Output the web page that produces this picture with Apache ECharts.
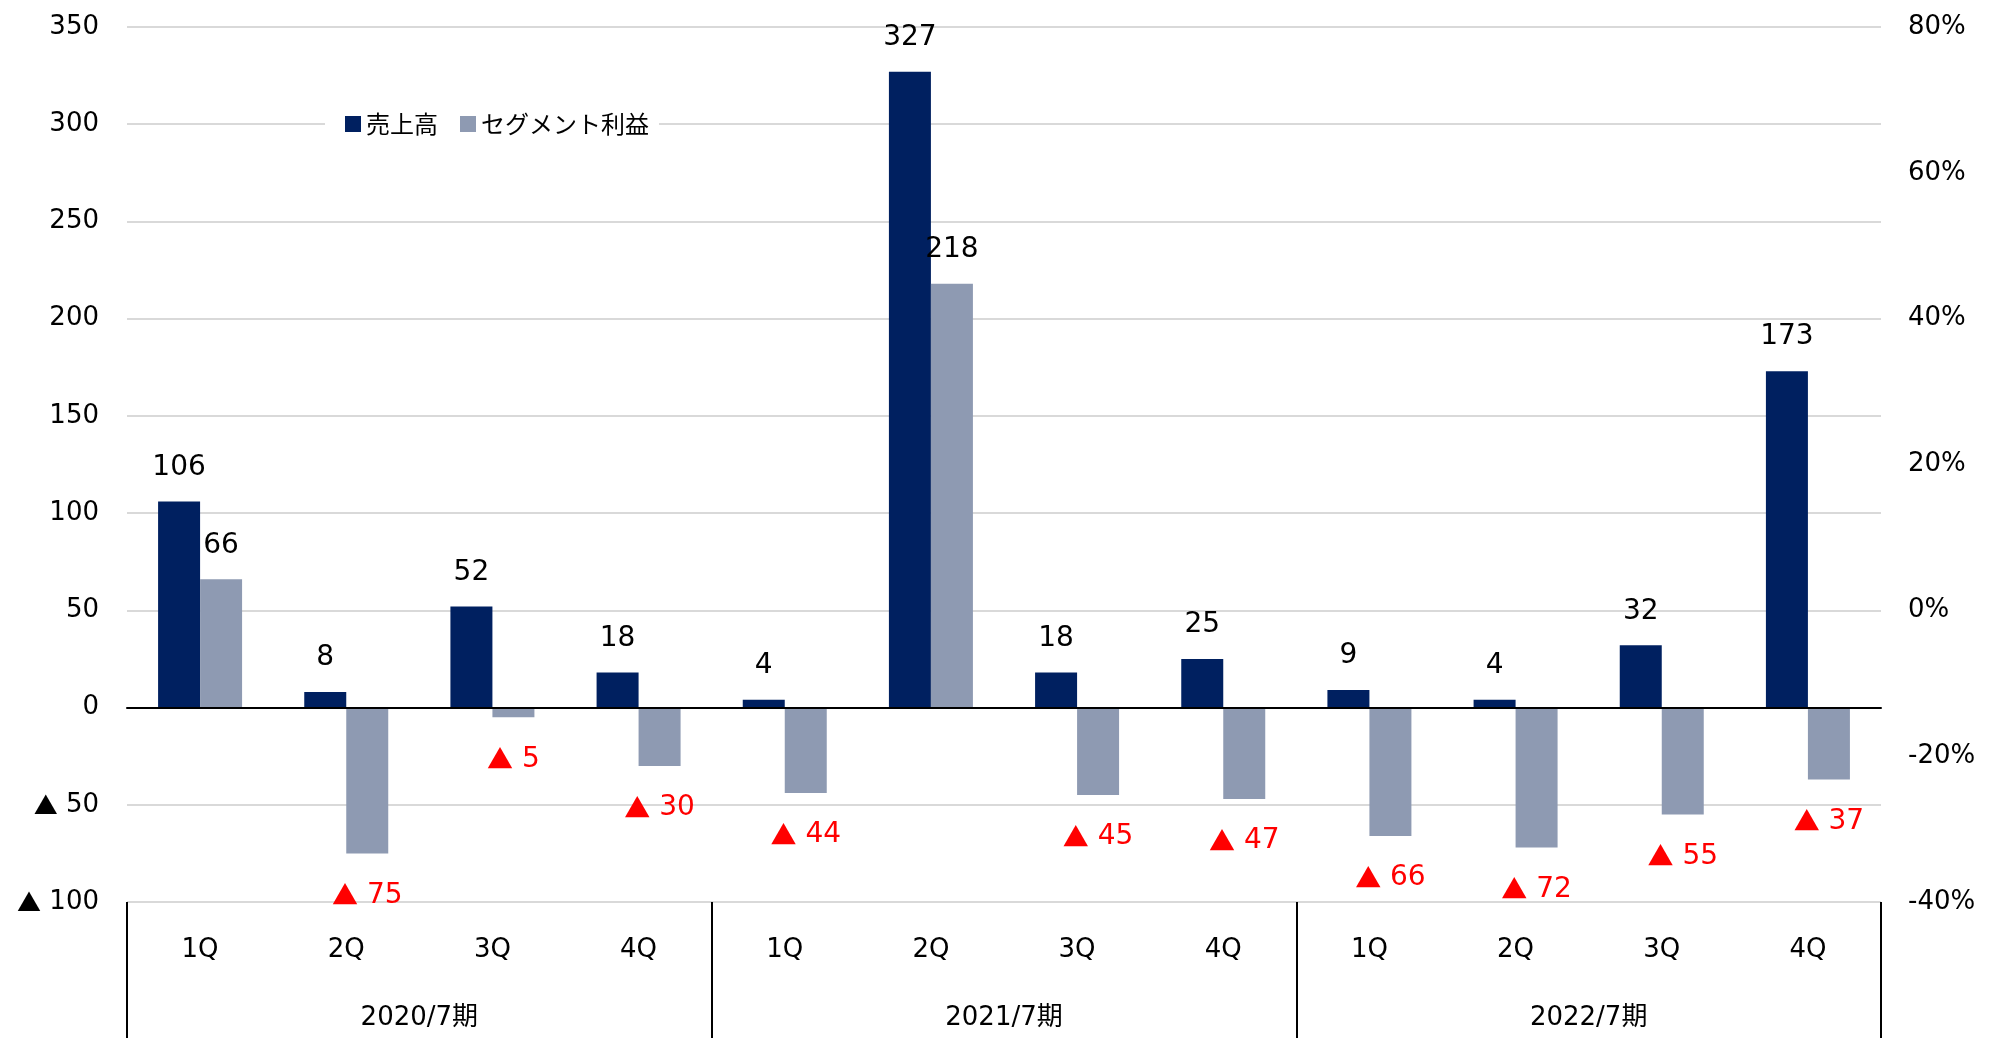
<!DOCTYPE html>
<html>
<head>
<meta charset="utf-8">
<script src="https://cdn.jsdelivr.net/npm/echarts@6/dist/echarts.min.js"></script>
<style>
html,body{margin:0;padding:0;background:#fff;}
#chart{width:1997px;height:1038px;}
</style>
</head>
<body>
<div id="chart"></div>
<script>
const quarters = ['1Q','2Q','3Q','4Q','1Q','2Q','3Q','4Q','1Q','2Q','3Q','4Q'];
const years = ['2020/7期','2021/7期','2022/7期'];
const sales = [106, 8, 52, 18, 4, 327, 18, 25, 9, 4, 32, 173];
const profit = [66, -75, -5, -30, -44, 218, -45, -47, -66, -72, -55, -37];
const seriesNames = ['売上高', 'セグメント利益'];

const FONT = '"DejaVu Sans", "Noto Sans CJK JP", sans-serif';
const CJK = '"Noto Sans CJK JP", sans-serif';
const fmtTri = v => v < 0 ? '{t|▲} ' + Math.abs(v) : String(v);

const profitData = profit.map(v => ({
  value: v,
  label: v < 0
    ? { position: 'bottom', color: '#FF0000', distance: 28 }
    : { position: 'top', color: '#000', distance: 20 }
}));

const chart = echarts.init(document.getElementById('chart'), null, {renderer: 'canvas'});
chart.setOption({
  animation: false,
  backgroundColor: '#fff',
  textStyle: { fontFamily: FONT },
  grid: { left: 127, right: 116, top: 27, bottom: 136, containLabel: false },
  legend: {
    data: seriesNames,
    left: 325, top: 106,
    backgroundColor: '#fff',
    padding: [6, 10, 6, 20],
    itemWidth: 16, itemHeight: 16, itemGap: 22,
    icon: 'rect',
    textStyle: { fontSize: 24, color: '#000', fontFamily: CJK }
  },
  xAxis: [
    {
      type: 'category', data: quarters, gridIndex: 0,
      axisLine: { show: true, onZero: true, onZeroAxisIndex: 0, lineStyle: { color: '#000', width: 2 } },
      axisTick: { show: false }, axisLabel: { show: false }, z: 10
    },
    {
      type: 'category', data: quarters, gridIndex: 0, position: 'bottom',
      axisLine: { show: false, onZero: false },
      axisTick: { show: false },
      axisLabel: { show: true, margin: 35, fontSize: 26, color: '#000', fontFamily: FONT, interval: 0 }
    },
    {
      type: 'category', data: years, gridIndex: 0, position: 'bottom',
      axisLine: { show: false, onZero: false },
      axisTick: { show: true, length: 136, interval: 0, lineStyle: { color: '#000', width: 2 } },
      axisLabel: { show: true, margin: 103, fontSize: 26, color: '#000', fontFamily: FONT, interval: 0 }
    }
  ],
  yAxis: [
    {
      type: 'value', min: -100, max: 350, interval: 50,
      axisLine: { show: false }, axisTick: { show: false },
      axisLabel: {
        fontSize: 26, color: '#000', margin: 28, fontFamily: FONT, formatter: fmtTri,
        rich: { t: { fontFamily: CJK, fontSize: 24, color: '#000' } }
      },
      splitLine: { show: true, lineStyle: { color: '#D9D9D9', width: 2 } }
    },
    {
      type: 'value', min: -40, max: 80, interval: 20, position: 'right',
      axisLine: { show: false }, axisTick: { show: false },
      axisLabel: { fontSize: 26, color: '#000', margin: 27, fontFamily: FONT, formatter: v => v + '%' },
      splitLine: { show: false }
    }
  ],
  series: [
    {
      name: seriesNames[0], type: 'bar', xAxisIndex: 0, yAxisIndex: 0,
      data: sales, barWidth: 42, barGap: '0%',
      itemStyle: { color: '#002060' },
      label: { show: true, position: 'top', distance: 20, fontSize: 28, color: '#000', fontFamily: FONT }
    },
    {
      name: seriesNames[1], type: 'bar', xAxisIndex: 0, yAxisIndex: 0,
      data: profitData, barWidth: 42, barGap: '0%',
      itemStyle: { color: '#8E9AB2' },
      label: {
        show: true, fontSize: 28, fontFamily: FONT, formatter: p => fmtTri(p.value),
        rich: { t: { fontFamily: CJK, fontSize: 26, color: '#FF0000' } }
      }
    }
  ]
});
</script>
</body>
</html>
